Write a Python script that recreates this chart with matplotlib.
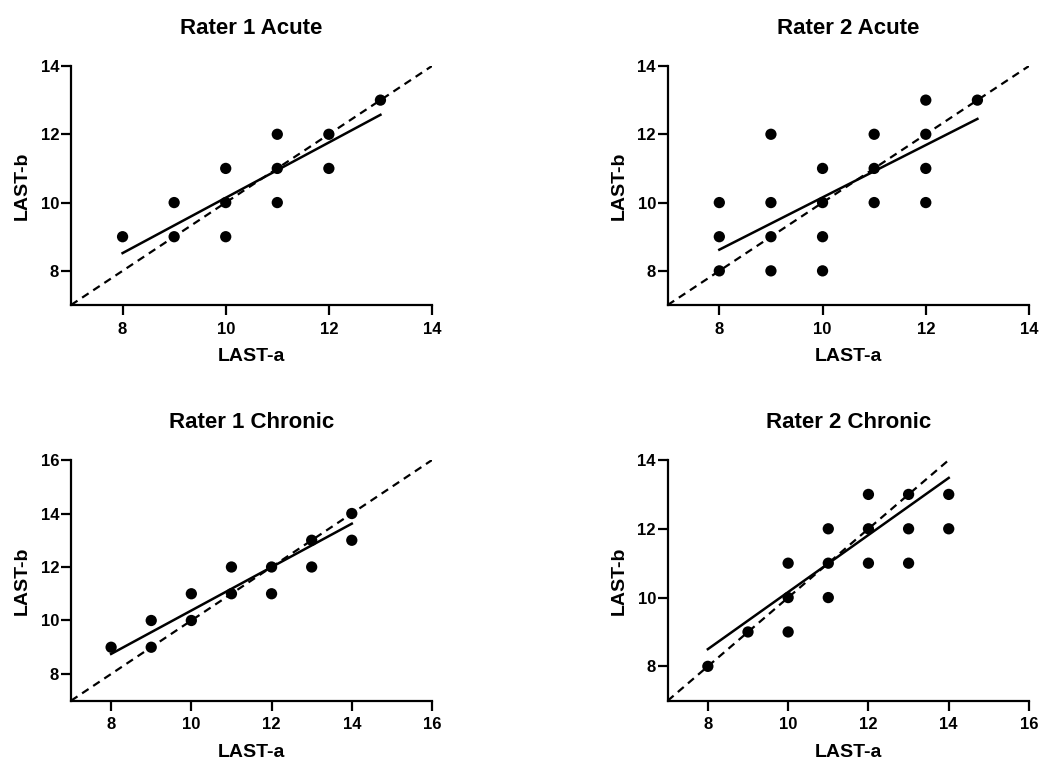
"""Agreement plots: LAST-a vs LAST-b for two raters, acute and chronic."""
import matplotlib
matplotlib.use("Agg")
import matplotlib.pyplot as plt

plt.rcParams['font.family'] = ['Liberation Sans', 'DejaVu Sans']
plt.rcParams['font.weight'] = 'bold'

# Rater 1 Acute
r1a_x = [8, 9, 9, 10, 10, 10, 11, 11, 11, 12, 12, 13]
r1a_y = [9, 10, 9, 11, 10, 9, 12, 11, 10, 12, 11, 13]
r1a_fit_x = [8, 13]
r1a_fit_y = [8.52, 12.57]

# Rater 2 Acute
r2a_x = [8, 8, 8, 9, 9, 9, 9, 10, 10, 10, 10, 11, 11, 11, 12, 12, 12, 12, 13]
r2a_y = [10, 9, 8, 12, 10, 9, 8, 11, 10, 9, 8, 12, 11, 10, 13, 12, 11, 10, 13]
r2a_fit_x = [8, 13]
r2a_fit_y = [8.62, 12.45]

# Rater 1 Chronic
r1c_x = [8, 9, 9, 10, 10, 11, 11, 12, 12, 13, 13, 14, 14]
r1c_y = [9, 10, 9, 11, 10, 12, 11, 12, 11, 13, 12, 14, 13]
r1c_fit_x = [8, 14]
r1c_fit_y = [8.75, 13.62]

# Rater 2 Chronic
r2c_x = [8, 9, 10, 10, 10, 11, 11, 11, 12, 12, 12, 13, 13, 13, 14, 14]
r2c_y = [8, 9, 11, 10, 9, 12, 11, 10, 13, 12, 11, 13, 12, 11, 13, 12]
r2c_fit_x = [8, 14]
r2c_fit_y = [8.5, 13.48]

titles = ["Rater 1 Acute", "Rater 2 Acute", "Rater 1 Chronic", "Rater 2 Chronic"]
x_limits = [(7, 14), (7, 14), (7, 16), (7, 16)]
y_limits = [(7, 14), (7, 14), (7, 16), (7, 14)]
x_ticks = [[8, 10, 12, 14], [8, 10, 12, 14], [8, 10, 12, 14, 16], [8, 10, 12, 14, 16]]
y_ticks = [[8, 10, 12, 14], [8, 10, 12, 14], [8, 10, 12, 14, 16], [8, 10, 12, 14]]

panels = [
    (r1a_x, r1a_y, r1a_fit_x, r1a_fit_y),
    (r2a_x, r2a_y, r2a_fit_x, r2a_fit_y),
    (r1c_x, r1c_y, r1c_fit_x, r1c_fit_y),
    (r2c_x, r2c_y, r2c_fit_x, r2c_fit_y),
]

# axes boxes in figure fractions [left, bottom, width, height]
boxes = [
    [0.0682, 0.5992, 0.3468, 0.3141],
    [0.6414, 0.5992, 0.3471, 0.3141],
    [0.0682, 0.0792, 0.3468, 0.3163],
    [0.6414, 0.0792, 0.3471, 0.3163],
]

fig = plt.figure(figsize=(10.41, 7.61), dpi=100)

for i, (xs, ys, fx, fy) in enumerate(panels):
    ax = fig.add_axes(boxes[i])
    lo = min(x_limits[i][0], y_limits[i][0])
    hi = min(x_limits[i][1], y_limits[i][1])
    # line of identity
    ax.plot([lo, hi], [lo, hi], color='black', lw=1.6, ls=(0, (3.5, 2.5)), zorder=2)
    ax.plot(fx, fy, color='black', lw=1.8, zorder=3)
    ax.scatter(xs, ys, s=66, color='black', edgecolors='none', zorder=4)

    ax.set_xlim(*x_limits[i])
    ax.set_ylim(*y_limits[i])
    ax.set_xticks(x_ticks[i])
    ax.set_yticks(y_ticks[i])
    for side in ('top', 'right'):
        ax.spines[side].set_visible(False)
    for side in ('left', 'bottom'):
        ax.spines[side].set_linewidth(1.6)
    ax.tick_params(axis='both', which='major', length=7, width=1.6, labelsize=12)
    ax.tick_params(axis='x', pad=5)
    ax.tick_params(axis='y', pad=1.5)
    for lab in ax.get_xticklabels() + ax.get_yticklabels():
        lab.set_fontweight('bold')

    ax.set_xlabel("LAST-a", fontsize=14, fontweight='bold', labelpad=8)
    ax.set_ylabel("LAST-b", fontsize=14, fontweight='bold', labelpad=7)
    ax.set_title(titles[i], fontsize=16, fontweight='bold', pad=23)

fig.savefig('out.png', dpi=100)
